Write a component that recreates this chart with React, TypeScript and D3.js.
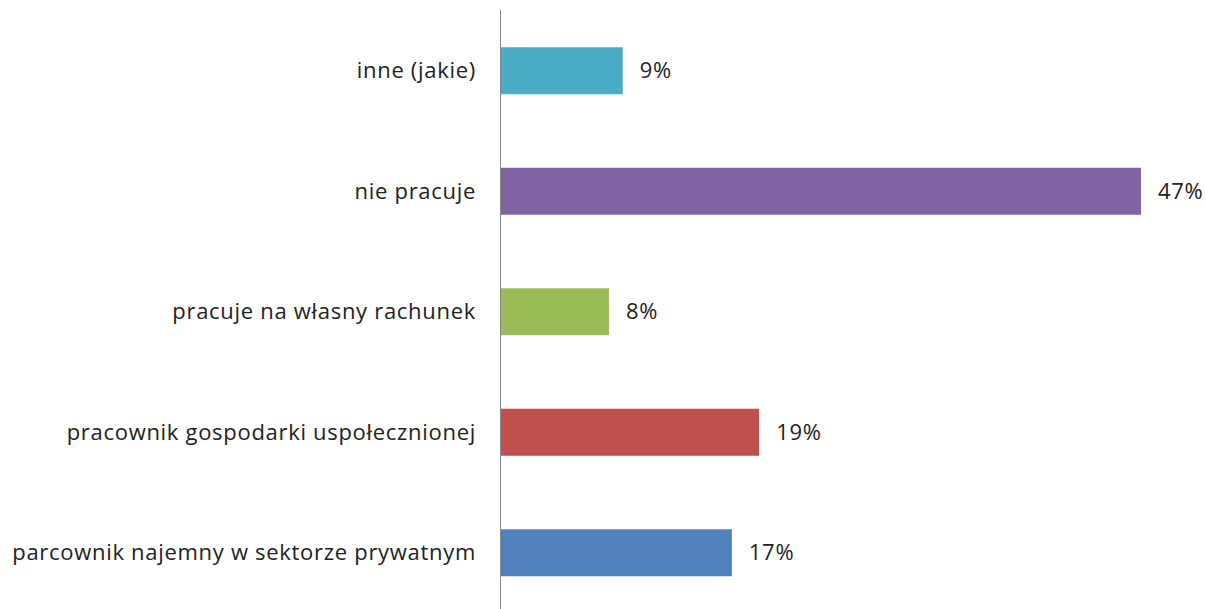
import { useEffect, useRef } from "react";
import * as d3 from "d3";

const categories = [
  "inne (jakie)",
  "nie pracuje",
  "pracuje na własny rachunek",
  "pracownik gospodarki uspołecznionej",
  "parcownik najemny w sektorze prywatnym",
];
const values = [9, 47, 8, 19, 17];
const colors = ["#4BACC6", "#8064A2", "#9BBB59", "#C0504D", "#4F81BD"];

const App = () => {
  const svgRef = useRef<SVGSVGElement | null>(null);

  useEffect(() => {
    const svg = d3.select(svgRef.current);
    svg.selectAll("*").remove();

    const width = 1206;
    const height = 609;
    const axisX = 500;
    const font = "'Open Sans', sans-serif";
    const fontSize = 22;

    const x = d3.scaleLinear().domain([0, 47]).range([axisX, 1141]);
    const y = d3.scaleBand<string>()
      .domain(categories)
      .range([10.5, 613])
      .paddingInner(0.61)
      .paddingOuter(0.305);

    const g = svg.append("g");

    // słupki
    g.selectAll("rect")
      .data(categories)
      .enter()
      .append("rect")
      .attr("x", x(0))
      .attr("y", d => y(d)!)
      .attr("width", (_, i) => x(values[i]) - x(0))
      .attr("height", y.bandwidth())
      .attr("fill", (_, i) => colors[i]);

    // oś
    g.append("line")
      .attr("x1", axisX + 0.5)
      .attr("x2", axisX + 0.5)
      .attr("y1", 10)
      .attr("y2", height)
      .attr("stroke", "#888")
      .attr("stroke-width", 1);

    // etykiety kategorii
    g.selectAll("text.cat")
      .data(categories)
      .enter()
      .append("text")
      .attr("class", "cat")
      .attr("x", axisX - 24)
      .attr("y", d => y(d)! + y.bandwidth() / 2)
      .attr("dy", "0.35em")
      .attr("text-anchor", "end")
      .attr("font-family", font)
      .attr("font-size", fontSize)
      .attr("letter-spacing", 0.7)
      .attr("fill", "#222")
      .text(d => d);

    // wartości
    g.selectAll("text.val")
      .data(categories)
      .enter()
      .append("text")
      .attr("class", "val")
      .attr("x", (_, i) => x(values[i]) + 17)
      .attr("y", d => y(d)! + y.bandwidth() / 2)
      .attr("dy", "0.35em")
      .attr("font-family", font)
      .attr("font-size", fontSize)
      .attr("letter-spacing", 0.7)
      .attr("fill", "#222")
      .text((_, i) => `${values[i]}%`);

    svg.attr("width", width).attr("height", height);
  }, []);

  return (
    <svg
      ref={svgRef}
      style={{ position: "absolute", left: 0, top: 0, background: "#fff" }}
    ></svg>
  );
};

export default App;
